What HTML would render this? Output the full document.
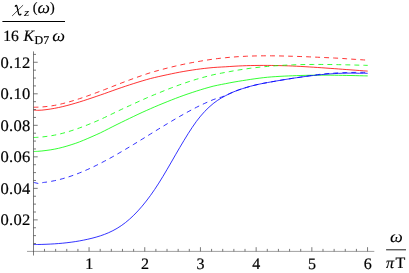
<!DOCTYPE html>
<html><head><meta charset="utf-8"><title>plot</title>
<style>
html,body{margin:0;padding:0;background:#fff;}
body{width:409px;height:273px;overflow:hidden;}
svg{display:block;}
svg{will-change:transform;}
text{font-family:"Liberation Serif",serif;font-size:16px;fill:#000;stroke:#000;stroke-width:0.2px;text-rendering:geometricPrecision;}
.it{font-style:italic;}
</style></head><body>
<svg width="409" height="273" viewBox="0 0 409 273">
<rect x="0" y="0" width="409" height="273" fill="#fff"/>
<g fill="none" stroke-width="0.8" stroke-linecap="butt">
<path d="M33.50 110.04 C34.20 110.09 36.29 110.30 37.68 110.31 C39.07 110.33 40.46 110.24 41.86 110.13 C43.25 110.02 44.64 109.84 46.03 109.67 C47.42 109.49 48.82 109.29 50.21 109.07 C51.60 108.86 53.00 108.62 54.39 108.36 C55.78 108.11 57.17 107.84 58.56 107.54 C59.96 107.25 61.35 106.93 62.74 106.60 C64.14 106.27 65.53 105.92 66.92 105.56 C68.31 105.19 69.70 104.82 71.10 104.43 C72.49 104.04 73.88 103.64 75.28 103.23 C76.67 102.82 78.06 102.40 79.45 101.97 C80.84 101.54 82.24 101.10 83.63 100.65 C85.02 100.21 86.42 99.75 87.81 99.29 C89.20 98.83 90.59 98.37 91.98 97.90 C93.38 97.43 94.77 96.95 96.16 96.47 C97.55 96.00 98.95 95.51 100.34 95.03 C101.73 94.55 103.12 94.08 104.52 93.59 C105.91 93.09 107.30 92.58 108.70 92.08 C110.09 91.58 111.48 91.08 112.87 90.58 C114.27 90.09 115.66 89.59 117.05 89.10 C118.44 88.62 119.84 88.13 121.23 87.66 C122.62 87.18 124.01 86.71 125.41 86.24 C126.80 85.77 128.19 85.31 129.58 84.86 C130.98 84.41 132.37 83.96 133.76 83.52 C135.15 83.07 136.54 82.64 137.94 82.21 C139.33 81.78 140.72 81.36 142.12 80.94 C143.51 80.52 144.90 80.11 146.29 79.71 C147.69 79.31 149.08 78.90 150.47 78.54 C151.86 78.17 153.25 77.86 154.65 77.53 C156.04 77.20 157.43 76.87 158.82 76.56 C160.22 76.24 161.61 75.94 163.00 75.63 C164.40 75.33 165.79 75.02 167.18 74.72 C168.57 74.42 169.97 74.12 171.36 73.83 C172.75 73.53 174.14 73.25 175.53 72.98 C176.93 72.70 178.32 72.43 179.71 72.17 C181.11 71.91 182.50 71.66 183.89 71.42 C185.28 71.17 186.68 70.94 188.07 70.71 C189.46 70.48 190.85 70.26 192.25 70.05 C193.64 69.84 195.03 69.64 196.42 69.44 C197.82 69.25 199.21 69.06 200.60 68.89 C201.99 68.71 203.38 68.55 204.78 68.39 C206.17 68.23 207.56 68.08 208.96 67.94 C210.35 67.80 211.74 67.65 213.13 67.54 C214.53 67.42 215.92 67.34 217.31 67.25 C218.70 67.16 220.09 67.07 221.49 67.00 C222.88 66.92 224.27 66.88 225.67 66.79 C227.06 66.71 228.45 66.59 229.84 66.50 C231.24 66.41 232.63 66.32 234.02 66.24 C235.41 66.15 236.81 66.08 238.20 66.01 C239.59 65.94 240.98 65.88 242.38 65.82 C243.77 65.77 245.16 65.72 246.55 65.67 C247.95 65.63 249.34 65.59 250.73 65.56 C252.12 65.53 253.51 65.50 254.91 65.48 C256.30 65.46 257.69 65.44 259.09 65.43 C260.48 65.42 261.87 65.41 263.26 65.41 C264.66 65.41 266.05 65.42 267.44 65.42 C268.83 65.43 270.23 65.44 271.62 65.46 C273.01 65.48 274.40 65.50 275.80 65.52 C277.19 65.55 278.58 65.58 279.97 65.61 C281.37 65.64 282.76 65.68 284.15 65.72 C285.54 65.76 286.94 65.80 288.33 65.85 C289.72 65.90 291.11 65.96 292.50 66.02 C293.90 66.08 295.29 66.15 296.68 66.23 C298.07 66.30 299.47 66.37 300.86 66.45 C302.25 66.52 303.65 66.60 305.04 66.69 C306.43 66.77 307.82 66.85 309.22 66.94 C310.61 67.02 312.00 67.11 313.39 67.20 C314.79 67.29 316.18 67.38 317.57 67.47 C318.96 67.57 320.36 67.66 321.75 67.76 C323.14 67.86 324.53 67.95 325.93 68.05 C327.32 68.15 328.71 68.25 330.10 68.35 C331.50 68.45 332.89 68.55 334.28 68.65 C335.67 68.76 337.07 68.86 338.46 68.96 C339.85 69.07 341.24 69.17 342.63 69.27 C344.03 69.38 345.42 69.48 346.81 69.58 C348.20 69.69 349.60 69.79 350.99 69.89 C352.38 70.00 353.78 70.10 355.17 70.20 C356.56 70.30 357.95 70.41 359.35 70.51 C360.74 70.61 362.13 70.71 363.52 70.81 C364.92 70.91 367.00 71.05 367.70 71.10" stroke="#ff0000"/>
<path d="M33.50 107.25 C34.20 107.23 36.29 107.23 37.68 107.18 C39.07 107.13 40.46 107.06 41.86 106.96 C43.25 106.86 44.64 106.73 46.03 106.58 C47.42 106.43 48.82 106.26 50.21 106.06 C51.60 105.87 53.00 105.66 54.39 105.41 C55.78 105.16 57.17 104.88 58.56 104.57 C59.96 104.27 61.35 103.93 62.74 103.59 C64.14 103.24 65.53 102.88 66.92 102.50 C68.31 102.12 69.70 101.72 71.10 101.31 C72.49 100.91 73.88 100.48 75.28 100.05 C76.67 99.61 78.06 99.16 79.45 98.70 C80.84 98.25 82.24 97.78 83.63 97.30 C85.02 96.82 86.42 96.33 87.81 95.84 C89.20 95.34 90.59 94.84 91.98 94.33 C93.38 93.82 94.77 93.31 96.16 92.79 C97.55 92.27 98.95 91.75 100.34 91.22 C101.73 90.70 103.12 90.18 104.52 89.64 C105.91 89.10 107.30 88.54 108.70 87.99 C110.09 87.45 111.48 86.89 112.87 86.34 C114.27 85.80 115.66 85.25 117.05 84.71 C118.44 84.17 119.84 83.63 121.23 83.09 C122.62 82.56 124.01 82.03 125.41 81.51 C126.80 80.99 128.19 80.47 129.58 79.95 C130.98 79.44 132.37 78.93 133.76 78.43 C135.15 77.93 136.54 77.43 137.94 76.94 C139.33 76.45 140.72 75.96 142.12 75.48 C143.51 75.00 144.90 74.52 146.29 74.06 C147.69 73.59 149.08 73.12 150.47 72.69 C151.86 72.26 153.25 71.88 154.65 71.48 C156.04 71.09 157.43 70.70 158.82 70.32 C160.22 69.93 161.61 69.56 163.00 69.19 C164.40 68.82 165.79 68.46 167.18 68.11 C168.57 67.75 169.97 67.41 171.36 67.07 C172.75 66.73 174.14 66.40 175.53 66.07 C176.93 65.75 178.32 65.43 179.71 65.13 C181.11 64.82 182.50 64.52 183.89 64.23 C185.28 63.94 186.68 63.65 188.07 63.38 C189.46 63.10 190.85 62.84 192.25 62.58 C193.64 62.32 195.03 62.08 196.42 61.83 C197.82 61.59 199.21 61.37 200.60 61.13 C201.99 60.89 203.38 60.65 204.78 60.42 C206.17 60.19 207.56 59.97 208.96 59.76 C210.35 59.55 211.74 59.35 213.13 59.16 C214.53 58.97 215.92 58.79 217.31 58.62 C218.70 58.45 220.09 58.28 221.49 58.13 C222.88 57.97 224.27 57.83 225.67 57.69 C227.06 57.55 228.45 57.43 229.84 57.30 C231.24 57.18 232.63 57.07 234.02 56.97 C235.41 56.86 236.81 56.76 238.20 56.67 C239.59 56.58 240.98 56.50 242.38 56.42 C243.77 56.35 245.16 56.28 246.55 56.22 C247.95 56.16 249.34 56.11 250.73 56.07 C252.12 56.02 253.51 55.98 254.91 55.95 C256.30 55.92 257.69 55.89 259.09 55.87 C260.48 55.85 261.87 55.83 263.26 55.82 C264.66 55.81 266.05 55.81 267.44 55.81 C268.83 55.81 270.23 55.82 271.62 55.83 C273.01 55.84 274.40 55.85 275.80 55.87 C277.19 55.89 278.58 55.92 279.97 55.95 C281.37 55.97 282.76 56.01 284.15 56.04 C285.54 56.08 286.94 56.13 288.33 56.16 C289.72 56.20 291.11 56.24 292.50 56.28 C293.90 56.32 295.29 56.36 296.68 56.40 C298.07 56.44 299.47 56.49 300.86 56.54 C302.25 56.59 303.65 56.64 305.04 56.69 C306.43 56.74 307.82 56.80 309.22 56.86 C310.61 56.91 312.00 56.97 313.39 57.03 C314.79 57.09 316.18 57.16 317.57 57.22 C318.96 57.28 320.36 57.35 321.75 57.41 C323.14 57.48 324.53 57.54 325.93 57.61 C327.32 57.68 328.71 57.75 330.10 57.81 C331.50 57.88 332.89 57.95 334.28 58.02 C335.67 58.09 337.07 58.14 338.46 58.22 C339.85 58.30 341.24 58.40 342.63 58.49 C344.03 58.58 345.42 58.69 346.81 58.79 C348.20 58.89 349.60 58.99 350.99 59.08 C352.38 59.18 353.78 59.27 355.17 59.37 C356.56 59.46 357.95 59.55 359.35 59.64 C360.74 59.73 362.13 59.82 363.52 59.91 C364.92 59.99 367.00 60.11 367.70 60.16" stroke="#ff0000" stroke-dasharray="4.9 4.13"/>
<path d="M33.50 151.48 C34.20 151.46 36.29 151.41 37.68 151.32 C39.07 151.23 40.46 151.11 41.86 150.97 C43.25 150.83 44.64 150.65 46.03 150.47 C47.42 150.29 48.82 150.12 50.21 149.90 C51.60 149.69 53.00 149.45 54.39 149.18 C55.78 148.91 57.17 148.63 58.56 148.31 C59.96 147.99 61.35 147.64 62.74 147.26 C64.14 146.89 65.53 146.49 66.92 146.08 C68.31 145.66 69.70 145.24 71.10 144.79 C72.49 144.35 73.88 143.91 75.28 143.43 C76.67 142.95 78.06 142.45 79.45 141.91 C80.84 141.38 82.24 140.80 83.63 140.22 C85.02 139.64 86.42 139.05 87.81 138.45 C89.20 137.85 90.59 137.25 91.98 136.64 C93.38 136.02 94.77 135.41 96.16 134.78 C97.55 134.16 98.95 133.54 100.34 132.88 C101.73 132.21 103.12 131.49 104.52 130.79 C105.91 130.09 107.30 129.39 108.70 128.68 C110.09 127.97 111.48 127.26 112.87 126.55 C114.27 125.85 115.66 125.15 117.05 124.46 C118.44 123.77 119.84 123.09 121.23 122.41 C122.62 121.73 124.01 121.06 125.41 120.38 C126.80 119.71 128.19 119.03 129.58 118.36 C130.98 117.69 132.37 117.02 133.76 116.36 C135.15 115.69 136.54 115.03 137.94 114.37 C139.33 113.72 140.72 113.07 142.12 112.43 C143.51 111.79 144.90 111.17 146.29 110.55 C147.69 109.93 149.08 109.31 150.47 108.70 C151.86 108.09 153.25 107.49 154.65 106.89 C156.04 106.29 157.43 105.71 158.82 105.12 C160.22 104.54 161.61 103.97 163.00 103.40 C164.40 102.83 165.79 102.27 167.18 101.71 C168.57 101.15 169.97 100.59 171.36 100.04 C172.75 99.49 174.14 98.95 175.53 98.41 C176.93 97.87 178.32 97.34 179.71 96.83 C181.11 96.31 182.50 95.81 183.89 95.32 C185.28 94.83 186.68 94.34 188.07 93.87 C189.46 93.40 190.85 92.93 192.25 92.47 C193.64 92.01 195.03 91.55 196.42 91.10 C197.82 90.65 199.21 90.21 200.60 89.78 C201.99 89.35 203.38 88.93 204.78 88.52 C206.17 88.11 207.56 87.71 208.96 87.33 C210.35 86.94 211.74 86.54 213.13 86.20 C214.53 85.86 215.92 85.58 217.31 85.29 C218.70 84.99 220.09 84.71 221.49 84.43 C222.88 84.16 224.27 83.91 225.67 83.65 C227.06 83.38 228.45 83.09 229.84 82.82 C231.24 82.55 232.63 82.29 234.02 82.05 C235.41 81.80 236.81 81.56 238.20 81.33 C239.59 81.10 240.98 80.88 242.38 80.66 C243.77 80.45 245.16 80.24 246.55 80.02 C247.95 79.80 249.34 79.58 250.73 79.37 C252.12 79.16 253.51 78.96 254.91 78.77 C256.30 78.57 257.69 78.39 259.09 78.21 C260.48 78.03 261.87 77.86 263.26 77.70 C264.66 77.54 266.05 77.37 267.44 77.24 C268.83 77.10 270.23 77.00 271.62 76.89 C273.01 76.79 274.40 76.69 275.80 76.60 C277.19 76.51 278.58 76.43 279.97 76.35 C281.37 76.27 282.76 76.20 284.15 76.13 C285.54 76.07 286.94 76.01 288.33 75.95 C289.72 75.89 291.11 75.83 292.50 75.78 C293.90 75.72 295.29 75.66 296.68 75.61 C298.07 75.56 299.47 75.51 300.86 75.47 C302.25 75.43 303.65 75.39 305.04 75.36 C306.43 75.33 307.82 75.30 309.22 75.28 C310.61 75.25 312.00 75.23 313.39 75.21 C314.79 75.20 316.18 75.19 317.57 75.18 C318.96 75.17 320.36 75.16 321.75 75.16 C323.14 75.15 324.53 75.15 325.93 75.15 C327.32 75.16 328.71 75.16 330.10 75.17 C331.50 75.18 332.89 75.20 334.28 75.22 C335.67 75.24 337.07 75.26 338.46 75.28 C339.85 75.31 341.24 75.33 342.63 75.36 C344.03 75.38 345.42 75.41 346.81 75.44 C348.20 75.47 349.60 75.50 350.99 75.53 C352.38 75.56 353.78 75.59 355.17 75.62 C356.56 75.65 357.95 75.68 359.35 75.72 C360.74 75.75 362.13 75.78 363.52 75.82 C364.92 75.85 367.00 75.90 367.70 75.91" stroke="#00ff00"/>
<path d="M33.50 137.51 C34.20 137.48 36.29 137.41 37.68 137.32 C39.07 137.23 40.46 137.12 41.86 136.98 C43.25 136.84 44.64 136.67 46.03 136.49 C47.42 136.31 48.82 136.12 50.21 135.90 C51.60 135.68 53.00 135.43 54.39 135.17 C55.78 134.90 57.17 134.62 58.56 134.30 C59.96 133.98 61.35 133.63 62.74 133.26 C64.14 132.90 65.53 132.50 66.92 132.09 C68.31 131.68 69.70 131.26 71.10 130.81 C72.49 130.37 73.88 129.92 75.28 129.44 C76.67 128.96 78.06 128.46 79.45 127.95 C80.84 127.45 82.24 126.92 83.63 126.39 C85.02 125.86 86.42 125.31 87.81 124.75 C89.20 124.20 90.59 123.63 91.98 123.05 C93.38 122.48 94.77 121.89 96.16 121.30 C97.55 120.70 98.95 120.11 100.34 119.49 C101.73 118.86 103.12 118.19 104.52 117.53 C105.91 116.87 107.30 116.21 108.70 115.54 C110.09 114.88 111.48 114.20 112.87 113.53 C114.27 112.86 115.66 112.18 117.05 111.50 C118.44 110.83 119.84 110.16 121.23 109.50 C122.62 108.85 124.01 108.22 125.41 107.58 C126.80 106.93 128.19 106.29 129.58 105.66 C130.98 105.02 132.37 104.38 133.76 103.74 C135.15 103.11 136.54 102.47 137.94 101.85 C139.33 101.22 140.72 100.59 142.12 99.96 C143.51 99.34 144.90 98.72 146.29 98.11 C147.69 97.49 149.08 96.87 150.47 96.28 C151.86 95.70 153.25 95.14 154.65 94.57 C156.04 94.01 157.43 93.46 158.82 92.90 C160.22 92.33 161.61 91.76 163.00 91.20 C164.40 90.64 165.79 90.07 167.18 89.52 C168.57 88.97 169.97 88.42 171.36 87.89 C172.75 87.35 174.14 86.83 175.53 86.31 C176.93 85.79 178.32 85.29 179.71 84.79 C181.11 84.29 182.50 83.80 183.89 83.33 C185.28 82.85 186.68 82.38 188.07 81.92 C189.46 81.47 190.85 81.02 192.25 80.58 C193.64 80.15 195.03 79.72 196.42 79.31 C197.82 78.89 199.21 78.49 200.60 78.09 C201.99 77.70 203.38 77.31 204.78 76.94 C206.17 76.56 207.56 76.19 208.96 75.84 C210.35 75.49 211.74 75.13 213.13 74.81 C214.53 74.49 215.92 74.21 217.31 73.93 C218.70 73.65 220.09 73.38 221.49 73.12 C222.88 72.85 224.27 72.62 225.67 72.36 C227.06 72.10 228.45 71.81 229.84 71.55 C231.24 71.28 232.63 71.03 234.02 70.78 C235.41 70.54 236.81 70.30 238.20 70.07 C239.59 69.84 240.98 69.62 242.38 69.41 C243.77 69.20 245.16 69.00 246.55 68.80 C247.95 68.60 249.34 68.41 250.73 68.23 C252.12 68.05 253.51 67.88 254.91 67.71 C256.30 67.55 257.69 67.39 259.09 67.24 C260.48 67.09 261.87 66.94 263.26 66.81 C264.66 66.67 266.05 66.54 267.44 66.42 C268.83 66.29 270.23 66.18 271.62 66.07 C273.01 65.96 274.40 65.85 275.80 65.76 C277.19 65.66 278.58 65.57 279.97 65.48 C281.37 65.39 282.76 65.31 284.15 65.24 C285.54 65.17 286.94 65.10 288.33 65.03 C289.72 64.97 291.11 64.92 292.50 64.86 C293.90 64.81 295.29 64.77 296.68 64.73 C298.07 64.69 299.47 64.66 300.86 64.62 C302.25 64.59 303.65 64.57 305.04 64.54 C306.43 64.52 307.82 64.50 309.22 64.49 C310.61 64.48 312.00 64.46 313.39 64.46 C314.79 64.45 316.18 64.45 317.57 64.45 C318.96 64.45 320.36 64.45 321.75 64.46 C323.14 64.46 324.53 64.47 325.93 64.48 C327.32 64.50 328.71 64.51 330.10 64.53 C331.50 64.54 332.89 64.56 334.28 64.59 C335.67 64.61 337.07 64.63 338.46 64.66 C339.85 64.68 341.24 64.71 342.63 64.74 C344.03 64.77 345.42 64.80 346.81 64.84 C348.20 64.87 349.60 64.90 350.99 64.94 C352.38 64.97 353.78 65.01 355.17 65.05 C356.56 65.08 357.95 65.12 359.35 65.16 C360.74 65.20 362.13 65.23 363.52 65.27 C364.92 65.31 367.00 65.37 367.70 65.39" stroke="#00ff00" stroke-dasharray="4.9 4.107"/>
<path d="M33.50 244.55 C34.20 244.54 36.29 244.52 37.68 244.50 C39.07 244.47 40.46 244.44 41.86 244.41 C43.25 244.37 44.64 244.33 46.03 244.27 C47.42 244.22 48.82 244.16 50.21 244.09 C51.60 244.02 53.00 243.94 54.39 243.85 C55.78 243.76 57.17 243.66 58.56 243.54 C59.96 243.43 61.35 243.31 62.74 243.18 C64.14 243.04 65.53 242.89 66.92 242.73 C68.31 242.57 69.70 242.40 71.10 242.21 C72.49 242.03 73.88 241.82 75.28 241.61 C76.67 241.39 78.06 241.16 79.45 240.91 C80.84 240.67 82.24 240.40 83.63 240.12 C85.02 239.84 86.42 239.55 87.81 239.23 C89.20 238.92 90.59 238.59 91.98 238.24 C93.38 237.89 94.77 237.52 96.16 237.12 C97.55 236.72 98.95 236.30 100.34 235.85 C101.73 235.39 103.12 234.90 104.52 234.37 C105.91 233.84 107.30 233.28 108.70 232.66 C110.09 232.05 111.48 231.39 112.87 230.67 C114.27 229.96 115.66 229.20 117.05 228.37 C118.44 227.54 119.84 226.65 121.23 225.70 C122.62 224.74 124.01 223.72 125.41 222.63 C126.80 221.54 128.19 220.37 129.58 219.14 C130.98 217.91 132.37 216.61 133.76 215.24 C135.15 213.87 136.54 212.43 137.94 210.92 C139.33 209.41 140.72 207.83 142.12 206.18 C143.51 204.53 144.90 202.82 146.29 201.03 C147.69 199.24 149.08 197.39 150.47 195.46 C151.86 193.54 153.25 191.54 154.65 189.48 C156.04 187.42 157.43 185.28 158.82 183.08 C160.22 180.89 161.61 178.61 163.00 176.31 C164.40 174.00 165.79 171.63 167.18 169.26 C168.57 166.88 169.97 164.45 171.36 162.04 C172.75 159.63 174.14 157.19 175.53 154.79 C176.93 152.38 178.32 149.96 179.71 147.60 C181.11 145.23 182.50 142.90 183.89 140.60 C185.28 138.30 186.68 135.99 188.07 133.78 C189.46 131.57 190.85 129.40 192.25 127.34 C193.64 125.27 195.03 123.27 196.42 121.39 C197.82 119.52 199.21 117.75 200.60 116.09 C201.99 114.42 203.38 112.86 204.78 111.39 C206.17 109.92 207.56 108.54 208.96 107.25 C210.35 105.95 211.74 104.74 213.13 103.62 C214.53 102.50 215.92 101.49 217.31 100.54 C218.70 99.59 220.09 98.74 221.49 97.92 C222.88 97.10 224.27 96.34 225.67 95.61 C227.06 94.88 228.45 94.19 229.84 93.54 C231.24 92.89 232.63 92.27 234.02 91.69 C235.41 91.12 236.81 90.59 238.20 90.08 C239.59 89.58 240.98 89.13 242.38 88.68 C243.77 88.24 245.16 87.83 246.55 87.41 C247.95 87.00 249.34 86.59 250.73 86.21 C252.12 85.83 253.51 85.48 254.91 85.14 C256.30 84.81 257.69 84.49 259.09 84.19 C260.48 83.90 261.87 83.62 263.26 83.34 C264.66 83.07 266.05 82.82 267.44 82.56 C268.83 82.31 270.23 82.07 271.62 81.82 C273.01 81.58 274.40 81.33 275.80 81.09 C277.19 80.85 278.58 80.61 279.97 80.37 C281.37 80.14 282.76 79.90 284.15 79.67 C285.54 79.44 286.94 79.21 288.33 78.99 C289.72 78.76 291.11 78.54 292.50 78.33 C293.90 78.11 295.29 77.90 296.68 77.69 C298.07 77.49 299.47 77.29 300.86 77.09 C302.25 76.89 303.65 76.70 305.04 76.51 C306.43 76.33 307.82 76.15 309.22 75.97 C310.61 75.80 312.00 75.63 313.39 75.47 C314.79 75.31 316.18 75.15 317.57 75.01 C318.96 74.86 320.36 74.72 321.75 74.59 C323.14 74.45 324.53 74.33 325.93 74.21 C327.32 74.10 328.71 73.99 330.10 73.89 C331.50 73.79 332.89 73.70 334.28 73.62 C335.67 73.53 337.07 73.46 338.46 73.40 C339.85 73.34 341.24 73.28 342.63 73.24 C344.03 73.20 345.42 73.17 346.81 73.15 C348.20 73.13 349.60 73.12 350.99 73.12 C352.38 73.13 353.78 73.14 355.17 73.17 C356.56 73.19 357.95 73.27 359.35 73.28 C360.74 73.30 362.13 73.27 363.52 73.28 C364.92 73.28 367.00 73.30 367.70 73.31" stroke="#0000ff"/>
<path d="M33.50 182.36 C33.92 182.46 35.17 182.77 36.00 182.96 C36.83 183.15 37.67 183.48 38.50 183.49 C39.33 183.50 40.17 183.18 41.00 183.01 C41.83 182.84 42.66 182.61 43.50 182.46 C44.34 182.32 44.91 182.31 46.03 182.16 C47.15 182.00 48.82 181.75 50.21 181.51 C51.60 181.27 53.00 181.00 54.39 180.71 C55.78 180.42 57.17 180.10 58.56 179.76 C59.96 179.42 61.35 179.05 62.74 178.66 C64.14 178.27 65.53 177.86 66.92 177.42 C68.31 176.99 69.70 176.53 71.10 176.05 C72.49 175.58 73.88 175.08 75.28 174.56 C76.67 174.04 78.06 173.50 79.45 172.95 C80.84 172.39 82.24 171.82 83.63 171.22 C85.02 170.63 86.42 170.02 87.81 169.40 C89.20 168.77 90.59 168.13 91.98 167.47 C93.38 166.81 94.77 166.14 96.16 165.45 C97.55 164.77 98.95 164.07 100.34 163.35 C101.73 162.64 103.12 161.91 104.52 161.17 C105.91 160.44 107.30 159.69 108.70 158.93 C110.09 158.16 111.48 157.39 112.87 156.61 C114.27 155.83 115.66 155.04 117.05 154.24 C118.44 153.44 119.84 152.63 121.23 151.82 C122.62 151.01 124.01 150.18 125.41 149.36 C126.80 148.53 128.19 147.69 129.58 146.85 C130.98 146.02 132.37 145.17 133.76 144.32 C135.15 143.48 136.54 142.62 137.94 141.77 C139.33 140.91 140.72 140.06 142.12 139.20 C143.51 138.34 144.90 137.48 146.29 136.61 C147.69 135.75 149.08 134.89 150.47 134.03 C151.86 133.17 153.25 132.31 154.65 131.45 C156.04 130.59 157.43 129.73 158.82 128.88 C160.22 128.03 161.61 127.17 163.00 126.33 C164.40 125.48 165.79 124.64 167.18 123.80 C168.57 122.96 169.97 122.13 171.36 121.30 C172.75 120.47 174.14 119.65 175.53 118.84 C176.93 118.03 178.32 117.22 179.71 116.42 C181.11 115.63 182.50 114.84 183.89 114.06 C185.28 113.28 186.68 112.51 188.07 111.75 C189.46 110.99 190.85 110.24 192.25 109.51 C193.64 108.77 195.03 108.05 196.42 107.34 C197.82 106.63 199.21 105.92 200.60 105.26 C201.99 104.59 203.38 103.96 204.78 103.33 C206.17 102.70 207.56 102.08 208.96 101.47 C210.35 100.87 211.74 100.23 213.13 99.70 C214.53 99.17 215.92 98.72 217.31 98.28 C218.70 97.85 220.09 97.54 221.49 97.08 C222.88 96.61 224.27 96.05 225.67 95.47 C227.06 94.88 228.45 94.17 229.84 93.54 C231.24 92.91 232.63 92.27 234.02 91.69 C235.41 91.12 236.81 90.59 238.20 90.08 C239.59 89.58 240.98 89.13 242.38 88.68 C243.77 88.24 245.16 87.83 246.55 87.41 C247.95 87.00 249.34 86.59 250.73 86.21 C252.12 85.83 253.51 85.48 254.91 85.14 C256.30 84.81 257.69 84.49 259.09 84.19 C260.48 83.90 261.87 83.62 263.26 83.34 C264.66 83.07 266.05 82.82 267.44 82.56 C268.83 82.31 270.23 82.07 271.62 81.82 C273.01 81.58 274.40 81.33 275.80 81.09 C277.19 80.85 278.58 80.61 279.97 80.37 C281.37 80.14 282.76 79.90 284.15 79.67 C285.54 79.44 286.94 79.21 288.33 78.99 C289.72 78.76 291.11 78.54 292.50 78.33 C293.90 78.11 295.29 77.90 296.68 77.69 C298.07 77.49 299.47 77.29 300.86 77.09 C302.25 76.88 303.65 76.67 305.04 76.46 C306.43 76.25 307.82 76.03 309.22 75.82 C310.61 75.60 312.00 75.39 313.39 75.19 C314.79 74.99 316.18 74.79 317.57 74.62 C318.96 74.44 320.36 74.27 321.75 74.11 C323.14 73.96 324.53 73.82 325.93 73.69 C327.32 73.57 328.71 73.46 330.10 73.37 C331.50 73.27 332.89 73.19 334.28 73.11 C335.67 73.03 337.07 72.96 338.46 72.89 C339.85 72.83 341.24 72.77 342.63 72.72 C344.03 72.66 345.42 72.62 346.81 72.57 C348.20 72.53 349.60 72.49 350.99 72.46 C352.38 72.43 353.78 72.41 355.17 72.38 C356.56 72.36 357.95 72.35 359.35 72.34 C360.74 72.33 362.13 72.32 363.52 72.32 C364.92 72.31 367.00 72.32 367.70 72.32" stroke="#0000ff" stroke-dasharray="4.9 4.096"/>
</g>
<g stroke="#404040" stroke-width="0.65" fill="none">
<line x1="33.5" y1="51.4" x2="33.5" y2="255.5" stroke-width="0.68"/>
<line x1="27" y1="251.4" x2="374.3" y2="251.4" stroke-width="0.5"/>
</g>
<g stroke="#404040" stroke-width="0.7" fill="none">
<line x1="33.5" y1="243.52" x2="36.00" y2="243.52"/>
<line x1="33.5" y1="235.64" x2="36.00" y2="235.64"/>
<line x1="33.5" y1="227.76" x2="36.00" y2="227.76"/>
<line x1="33.5" y1="219.88" x2="37.70" y2="219.88"/>
<line x1="33.5" y1="212.00" x2="36.00" y2="212.00"/>
<line x1="33.5" y1="204.12" x2="36.00" y2="204.12"/>
<line x1="33.5" y1="196.24" x2="36.00" y2="196.24"/>
<line x1="33.5" y1="188.36" x2="37.70" y2="188.36"/>
<line x1="33.5" y1="180.48" x2="36.00" y2="180.48"/>
<line x1="33.5" y1="172.60" x2="36.00" y2="172.60"/>
<line x1="33.5" y1="164.72" x2="36.00" y2="164.72"/>
<line x1="33.5" y1="156.84" x2="37.70" y2="156.84"/>
<line x1="33.5" y1="148.96" x2="36.00" y2="148.96"/>
<line x1="33.5" y1="141.08" x2="36.00" y2="141.08"/>
<line x1="33.5" y1="133.20" x2="36.00" y2="133.20"/>
<line x1="33.5" y1="125.32" x2="37.70" y2="125.32"/>
<line x1="33.5" y1="117.44" x2="36.00" y2="117.44"/>
<line x1="33.5" y1="109.56" x2="36.00" y2="109.56"/>
<line x1="33.5" y1="101.68" x2="36.00" y2="101.68"/>
<line x1="33.5" y1="93.80" x2="37.70" y2="93.80"/>
<line x1="33.5" y1="85.92" x2="36.00" y2="85.92"/>
<line x1="33.5" y1="78.04" x2="36.00" y2="78.04"/>
<line x1="33.5" y1="70.16" x2="36.00" y2="70.16"/>
<line x1="33.5" y1="62.28" x2="37.70" y2="62.28"/>
<line x1="33.5" y1="54.40" x2="36.00" y2="54.40"/>
<line x1="44.49" y1="251.4" x2="44.49" y2="248.90"/>
<line x1="55.63" y1="251.4" x2="55.63" y2="248.90"/>
<line x1="66.77" y1="251.4" x2="66.77" y2="248.90"/>
<line x1="77.91" y1="251.4" x2="77.91" y2="248.90"/>
<line x1="89.05" y1="251.4" x2="89.05" y2="247.20"/>
<line x1="100.19" y1="251.4" x2="100.19" y2="248.90"/>
<line x1="111.33" y1="251.4" x2="111.33" y2="248.90"/>
<line x1="122.47" y1="251.4" x2="122.47" y2="248.90"/>
<line x1="133.61" y1="251.4" x2="133.61" y2="248.90"/>
<line x1="144.75" y1="251.4" x2="144.75" y2="247.20"/>
<line x1="155.89" y1="251.4" x2="155.89" y2="248.90"/>
<line x1="167.03" y1="251.4" x2="167.03" y2="248.90"/>
<line x1="178.17" y1="251.4" x2="178.17" y2="248.90"/>
<line x1="189.31" y1="251.4" x2="189.31" y2="248.90"/>
<line x1="200.45" y1="251.4" x2="200.45" y2="247.20"/>
<line x1="211.59" y1="251.4" x2="211.59" y2="248.90"/>
<line x1="222.73" y1="251.4" x2="222.73" y2="248.90"/>
<line x1="233.87" y1="251.4" x2="233.87" y2="248.90"/>
<line x1="245.01" y1="251.4" x2="245.01" y2="248.90"/>
<line x1="256.15" y1="251.4" x2="256.15" y2="247.20"/>
<line x1="267.29" y1="251.4" x2="267.29" y2="248.90"/>
<line x1="278.43" y1="251.4" x2="278.43" y2="248.90"/>
<line x1="289.57" y1="251.4" x2="289.57" y2="248.90"/>
<line x1="300.71" y1="251.4" x2="300.71" y2="248.90"/>
<line x1="311.85" y1="251.4" x2="311.85" y2="247.20"/>
<line x1="322.99" y1="251.4" x2="322.99" y2="248.90"/>
<line x1="334.13" y1="251.4" x2="334.13" y2="248.90"/>
<line x1="345.27" y1="251.4" x2="345.27" y2="248.90"/>
<line x1="356.41" y1="251.4" x2="356.41" y2="248.90"/>
<line x1="367.55" y1="251.4" x2="367.55" y2="247.20"/>
</g>
<g>
<text transform="translate(30.6,225.48) scale(1.033,1)" text-anchor="end" style="letter-spacing:0.3px">0.02</text>
<text transform="translate(30.6,193.96) scale(1.033,1)" text-anchor="end" style="letter-spacing:0.3px">0.04</text>
<text transform="translate(30.6,162.44) scale(1.033,1)" text-anchor="end" style="letter-spacing:0.3px">0.06</text>
<text transform="translate(30.6,130.92) scale(1.033,1)" text-anchor="end" style="letter-spacing:0.3px">0.08</text>
<text transform="translate(30.6,99.40) scale(1.033,1)" text-anchor="end" style="letter-spacing:0.3px">0.10</text>
<text transform="translate(30.6,67.88) scale(1.033,1)" text-anchor="end" style="letter-spacing:0.3px">0.12</text>
<text x="89.20" y="268.6" text-anchor="middle">1</text>
<text x="144.90" y="268.6" text-anchor="middle">2</text>
<text x="200.60" y="268.6" text-anchor="middle">3</text>
<text x="256.30" y="268.6" text-anchor="middle">4</text>
<text x="312.00" y="268.6" text-anchor="middle">5</text>
<text x="367.70" y="268.6" text-anchor="middle">6</text>
</g>
<!-- title -->
<g>
<line x1="2.4" y1="21.5" x2="65" y2="21.5" stroke="#000" stroke-width="1"/>
<path d="M15.3,6.3 C15.6,5.3 16.6,5.0 16.95,6.3 L18.5,13.4 C18.8,14.9 19.7,15.4 20.9,14.2" fill="none" stroke="#000" stroke-width="1.25" stroke-linecap="round"/>
<path d="M22.8,5.4 L12.4,15.7" fill="none" stroke="#000" stroke-width="0.7" stroke-linecap="round"/>
<text transform="translate(24.0,15.7) scale(1.12,0.92)" class="it" style="font-size:12px;stroke-width:0.05px">z</text>
<text x="32.8" y="11.7" style="font-size:14.2px">(</text>
<text transform="translate(37.6,13.3) scale(1.10,1.05)" class="it" style="stroke-width:0.08px">&#969;</text>
<text x="50.0" y="11.7" style="font-size:14.2px">)</text>
<text x="3.3" y="40.5" style="font-size:15.6px">16</text>
<text x="23.6" y="40.6" class="it" style="font-size:15.8px">K</text>
<text x="34.6" y="44.0" style="font-size:12px">D7</text>
<text transform="translate(52.2,40.6) scale(1.13,1.03)" class="it" style="stroke-width:0.08px">&#969;</text>
</g>
<!-- x label -->
<g>
<line x1="386.1" y1="249.8" x2="406" y2="249.8" stroke="#111" stroke-width="0.95"/>
<text transform="translate(389.9,241.5) scale(1.13,1.03)" class="it" style="stroke-width:0.08px">&#969;</text>
<text x="386" y="267.8" class="it">&#960;</text>
<text x="395.5" y="267.8">T</text>
</g>
</svg>
</body></html>
